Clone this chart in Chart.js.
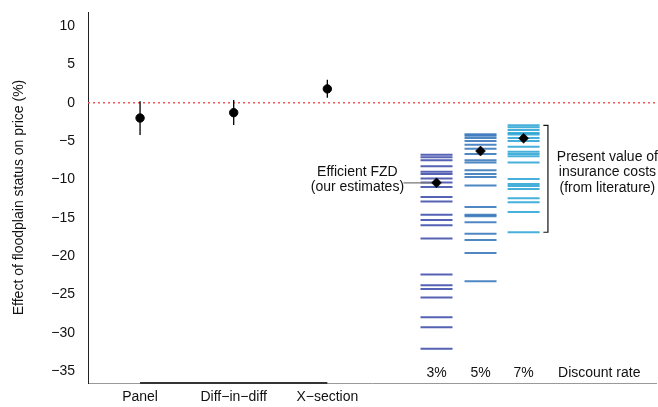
<!DOCTYPE html>
<html>
<head>
<meta charset="utf-8">
<script src="https://cdn.jsdelivr.net/npm/chart.js@4/dist/chart.umd.min.js"></script>
<style>
  html, body { margin: 0; padding: 0; background: #fff; }
  #wrap { width: 658px; height: 407px; }
</style>
</head>
<body>
<div id="wrap"><canvas id="c" width="658" height="407"></canvas></div>
<script>
// ---------- DATA ----------
const estCategories = ['Panel', 'Diff\u2212in\u2212diff', 'X\u2212section'];
const estValues = [-2.0, -1.3, 1.8];
const estLower = [-4.2, -2.9, 0.65];
const estUpper = [0.2, 0.35, 3.0];

const rateLabels = ['3%', '5%', '7%'];
const rate3 = [-6.8, -7.1, -7.5, -8.3, -9.0, -9.3, -9.9, -10.4, -11.0, -12.3, -12.9,
               -14.6, -15.3, -16.0, -17.7, -22.4, -23.8, -24.3, -25.4, -28.0, -29.3, -32.1];
const rate5 = [-4.1, -4.3, -4.6, -5.0, -5.5, -6.0, -6.7, -7.5, -7.8, -8.8, -9.3, -9.7,
               -10.8, -13.6, -14.6, -14.8, -15.6, -17.1, -17.9, -19.6, -23.3];
const rate7 = [-2.95, -3.2, -3.55, -3.95, -4.15, -4.6, -5.0, -5.75, -6.4, -6.7, -7.0,
               -7.8, -9.95, -10.6, -10.85, -11.25, -12.45, -13.0, -14.25, -16.9];
const rateMeans = [-10.45, -6.3, -4.65];

const yTicks = [10, 5, 0, -5, -10, -15, -20, -25, -30, -35];
const axisTitle = 'Effect of floodplain status on price (%)';
const fzdText = ['Efficient FZD', '(our estimates)'];
const litText = ['Present value of', 'insurance costs', '(from literature)'];
const rateAxisText = 'Discount rate';

// ---------- LAYOUT (scale units) ----------
const estX = [1, 2, 3];
const rateX = [4.166, 4.636, 5.096];
const X_MIN = 0.444, X_MAX = 6.51;
const Y_MIN = -36.56, Y_MAX = 11.83;

const FONT = '"Liberation Sans", Arial, Helvetica, sans-serif';
const rateColors = ['rgba(30,45,155,0.75)', 'rgba(20,95,175,0.75)', 'rgba(10,150,205,0.75)'];

const rateSets = [rate3, rate5, rate7];
const rateDatasets = rateSets.map((arr, i) => ({
  type: 'scatter',
  data: arr.map(v => ({ x: rateX[i], y: v })),
  pointStyle: 'line',
  pointRadius: 16,
  borderColor: rateColors[i],
  backgroundColor: rateColors[i],
  borderWidth: 2,
  order: 5
}));

const errData = [];
estX.forEach((x, i) => {
  errData.push({ x, y: estLower[i] }, { x, y: estUpper[i] }, { x, y: null });
});

const lit = rate7;
const litTop = Math.max(...lit), litBot = Math.min(...lit);
const bx = 5.356, bxt = 5.307;

const textPlugin = {
  id: 'texts',
  afterDatasetsDraw(chart) {
    const { ctx, scales: { x, y } } = chart;
    ctx.save();
    ctx.fillStyle = '#111';
    ctx.font = '14px ' + FONT;
    ctx.textAlign = 'center';
    ctx.textBaseline = 'middle';
    rateLabels.forEach((t, i) => ctx.fillText(t, x.getPixelForValue(rateX[i]), y.getPixelForValue(-35.25)));
    ctx.fillText(rateAxisText, x.getPixelForValue(5.904), y.getPixelForValue(-35.25));
    ctx.fillText(fzdText[0], x.getPixelForValue(3.321), y.getPixelForValue(-9.0));
    ctx.fillText(fzdText[1], x.getPixelForValue(3.321), y.getPixelForValue(-11.03));
    const ly = [-7.08, -9.1, -11.12];
    litText.forEach((t, i) => ctx.fillText(t, x.getPixelForValue(5.991), y.getPixelForValue(ly[i])));
    ctx.restore();
  }
};

new Chart(document.getElementById('c'), {
  type: 'scatter',
  data: {
    datasets: [
      { // zero reference line
        type: 'line',
        data: [{ x: X_MIN, y: 0 }, { x: X_MAX, y: 0 }],
        borderColor: '#f05a5a', borderWidth: 1.6, borderDash: [2, 3],
        pointRadius: 0, order: 10
      },
      { // error bars
        type: 'line',
        data: errData,
        borderColor: '#000', borderWidth: 1.3, pointRadius: 0, spanGaps: false, order: 2
      },
      { // point estimates
        type: 'scatter',
        data: estX.map((x, i) => ({ x, y: estValues[i] })),
        pointRadius: 4.2, borderWidth: 1, borderColor: '#000', backgroundColor: '#000', order: 1
      },
      ...rateDatasets,
      { // FZD leader line
        type: 'line',
        data: [{ x: 3.813, y: rateMeans[0] }, { x: rateX[0], y: rateMeans[0] }],
        borderColor: '#777', borderWidth: 1.3, pointRadius: 0, order: 3
      },
      { // means
        type: 'scatter',
        data: rateX.map((x, i) => ({ x, y: rateMeans[i] })),
        pointStyle: 'rectRot', pointRadius: 5, borderWidth: 0.5,
        borderColor: '#000', backgroundColor: '#000', order: 0
      },
      { // bracket
        type: 'line',
        data: [{ x: bxt, y: litTop }, { x: bx, y: litTop }, { x: bx, y: litBot }, { x: bxt, y: litBot }],
        borderColor: '#111', borderWidth: 1.2, pointRadius: 0, tension: 0, order: 3
      },
      { // bottom axis segment
        type: 'line',
        data: [{ x: estX[0], y: Y_MIN }, { x: estX[2], y: Y_MIN }],
        borderColor: '#333', borderWidth: 2.2, pointRadius: 0, clip: false, order: 0
      }
    ]
  },
  options: {
    responsive: false,
    animation: false,
    events: [],
    layout: { autoPadding: false, padding: { top: 12, right: 2, left: 0, bottom: 0 } },
    plugins: { legend: { display: false }, tooltip: { enabled: false } },
    scales: {
      x: {
        type: 'linear', min: X_MIN, max: X_MAX,
        grid: { display: false, drawTicks: false },
        border: { display: true, color: '#999', width: 1 },
        afterBuildTicks: s => { s.ticks = estX.map(v => ({ value: v })); },
        afterFit: s => { s.height = 24; s.paddingLeft = 0; s.paddingRight = 0; },
        ticks: {
          autoSkip: false, maxRotation: 0, padding: 6,
          color: '#111', font: { family: FONT, size: 14 },
          callback: (v) => { const i = estX.indexOf(v); return i >= 0 ? estCategories[i] : ''; }
        }
      },
      y: {
        type: 'linear', min: Y_MIN, max: Y_MAX,
        grid: { display: false, drawTicks: false },
        border: { display: true, color: '#222', width: 1 },
        afterBuildTicks: s => { s.ticks = yTicks.map(v => ({ value: v })); },
        afterFit: s => { s.width = 88; s.paddingTop = 0; s.paddingBottom = 0; },
        title: { display: true, text: axisTitle, color: '#111', font: { family: FONT, size: 14 }, padding: { top: 11, bottom: 0 } },
        ticks: {
          padding: 13, color: '#111', font: { family: FONT, size: 14 },
          callback: v => String(v).replace('-', '\u2212')
        }
      }
    }
  },
  plugins: [textPlugin]
});
</script>
</body>
</html>
